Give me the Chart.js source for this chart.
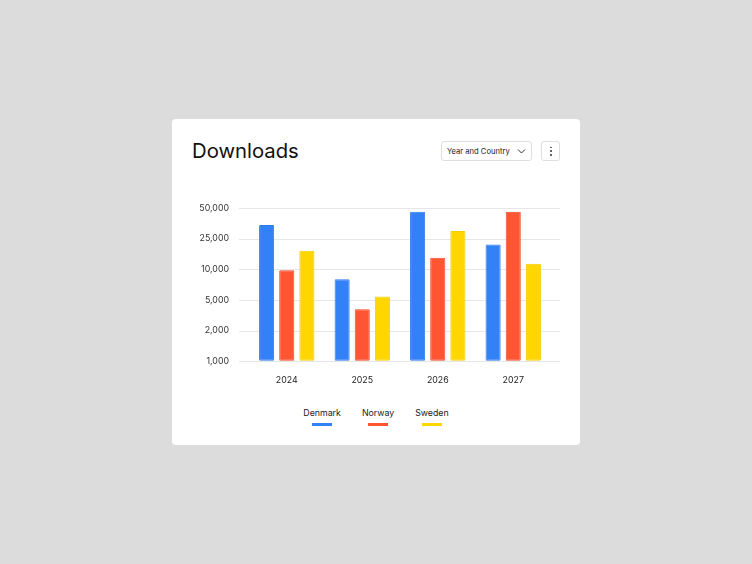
<!DOCTYPE html>
<html>
<head>
<meta charset="utf-8">
<script src="https://cdn.jsdelivr.net/npm/chart.js@4/dist/chart.umd.min.js"></script>
<style>
  html, body { margin:0; padding:0; width:752px; height:564px; background:#dcdcdc; overflow:hidden; font-family: Inter, "Noto Sans", sans-serif; }
  .card { position:absolute; left:172px; top:119px; width:408px; height:326px; background:#fff; border-radius:4px; }
  .title { position:absolute; left:20px; top:19px; font-size:20.3px; font-weight:400; color:#111; letter-spacing:0; }
  .select { position:absolute; left:269px; top:22px; width:89px; height:18px; border:1px solid #dedede; border-radius:3px; box-sizing:content-box; font-size:7.6px; color:#222; }
  .select span { position:absolute; left:5px; top:5px; }
  .select svg { position:absolute; right:5px; top:5px; }
  .kebab { position:absolute; left:369px; top:22px; width:17px; height:18px; border:1px solid #dedede; border-radius:3px; }
  .kebab i { position:absolute; left:8px; width:1.6px; height:1.6px; background:#444; border-radius:50%; }
  .chartbox { position:absolute; left:8px; top:76px; width:390px; height:197px; }
  .legend { position:absolute; left:0; width:408px; top:288px; display:flex; justify-content:center; gap:21px; }
  .legend .item { display:flex; flex-direction:column; align-items:center; font-size:8.8px; line-height:12px; color:#222; }
  .legend .sw { width:20px; height:2.5px; margin-top:4px; }
</style>
</head>
<body>
<div class="card">
  <div class="title">Downloads</div>
  <div class="select"><span>Year and Country</span>
    <svg width="9" height="8" viewBox="0 0 9 8"><path d="M1 2.5 L4.5 6 L8 2.5" fill="none" stroke="#333" stroke-width="1"/></svg>
  </div>
  <div class="kebab"><i style="top:4.5px"></i><i style="top:8.2px"></i><i style="top:12px"></i></div>
  <div class="chartbox"><canvas id="c"></canvas></div>
  <div class="legend" id="legend"></div>
</div>
<script>
const years = ['2024', '2025', '2026', '2027'];
const denmark = [34000, 8000, 46000, 21000];
const norway = [9800, 3800, 14100, 46000];
const sweden = [17400, 5400, 29700, 11800];
const yTickValues = [1000, 2000, 5000, 10000, 25000, 50000];
const seriesNames = ['Denmark', 'Norway', 'Sweden'];
const seriesColors = ['#3381f6', '#ff5533', '#ffd600'];
const seriesBorders = ['#2f78ea', '#f04a28', '#f5cd00'];

// Scale whose ticks are evenly spaced, log-interpolated between them
class StepLogScale extends Chart.LinearScale {
  determineDataLimits() {
    this.min = yTickValues[0];
    this.max = yTickValues[yTickValues.length - 1];
  }
  buildTicks() {
    return yTickValues.map(v => ({ value: v }));
  }
  _dec(v) {
    const t = yTickValues, n = t.length;
    if (v == null || isNaN(v) || v <= t[0]) return 0;
    if (v >= t[n - 1]) return 1;
    let i = 0;
    while (i < n - 2 && v > t[i + 1]) i++;
    const f = Math.log(v / t[i]) / Math.log(t[i + 1] / t[i]);
    return (i + f) / (n - 1);
  }
  getPixelForValue(v) {
    return this.getPixelForDecimal(this._dec(v));
  }
  getValueForPixel(p) {
    const t = yTickValues, n = t.length;
    const d = this.getDecimalForPixel(p) * (n - 1);
    const i = Math.max(0, Math.min(n - 2, Math.floor(d)));
    return t[i] * Math.pow(t[i + 1] / t[i], d - i);
  }
  getBasePixel() { return this.getPixelForValue(yTickValues[0]); }
}
StepLogScale.id = 'steplog';
StepLogScale.defaults = {};
Chart.register(StepLogScale);

const gridPlugin = {
  id: 'extGrid',
  beforeDatasetsDraw(chart) {
    const y = chart.scales.y, ca = chart.chartArea, ctx = chart.ctx;
    ctx.save();
    ctx.strokeStyle = '#e6e6e6';
    ctx.lineWidth = 1;
    y.ticks.forEach((t, i) => {
      const py = Math.round(y.getPixelForTick(i)) + 0.5;
      ctx.beginPath();
      ctx.moveTo(ca.left - 10, py);
      ctx.lineTo(ca.right + 9, py);
      ctx.stroke();
    });
    ctx.restore();
  }
};

const datasets = [denmark, norway, sweden].map((d, i) => ({
  label: seriesNames[i],
  data: d,
  backgroundColor: seriesColors[i],
  borderColor: seriesBorders[i],
  borderWidth: 1,
  borderRadius: 1,
  borderSkipped: false,
  base: yTickValues[0],
  barPercentage: 0.75,
  categoryPercentage: 0.8
}));

new Chart(document.getElementById('c'), {
  type: 'bar',
  data: { labels: years, datasets },
  options: {
    responsive: true,
    maintainAspectRatio: false,
    animation: false,
    layout: { padding: { top: 13, right: 19, bottom: 0, left: 0 } },
    plugins: { legend: { display: false }, tooltip: { enabled: false } },
    scales: {
      x: {
        grid: { display: false, drawTicks: false },
        border: { display: false },
        ticks: { font: { family: 'Inter', size: 8.8 }, color: '#222', padding: 14 },
        afterFit(s) { s.height = 30.7; }
      },
      y: {
        type: 'steplog',
        position: 'left',
        grid: { display: true, color: 'rgba(0,0,0,0)', drawTicks: true, tickLength: 20 },
        border: { display: false },
        ticks: {
          font: { family: 'Inter', size: 8.8 }, color: '#333', padding: 0,
          callback: v => Number(v).toLocaleString('en-US')
        },
        afterFit(s) { s.width = 69; }
      }
    }
  },
  plugins: [gridPlugin]
});

const lg = document.getElementById('legend');
seriesNames.forEach((n, i) => {
  const it = document.createElement('div');
  it.className = 'item';
  const tx = document.createElement('span');
  tx.textContent = n;
  const sw = document.createElement('div');
  sw.className = 'sw';
  sw.style.background = seriesColors[i];
  it.appendChild(tx); it.appendChild(sw);
  lg.appendChild(it);
});
</script>
</body>
</html>
